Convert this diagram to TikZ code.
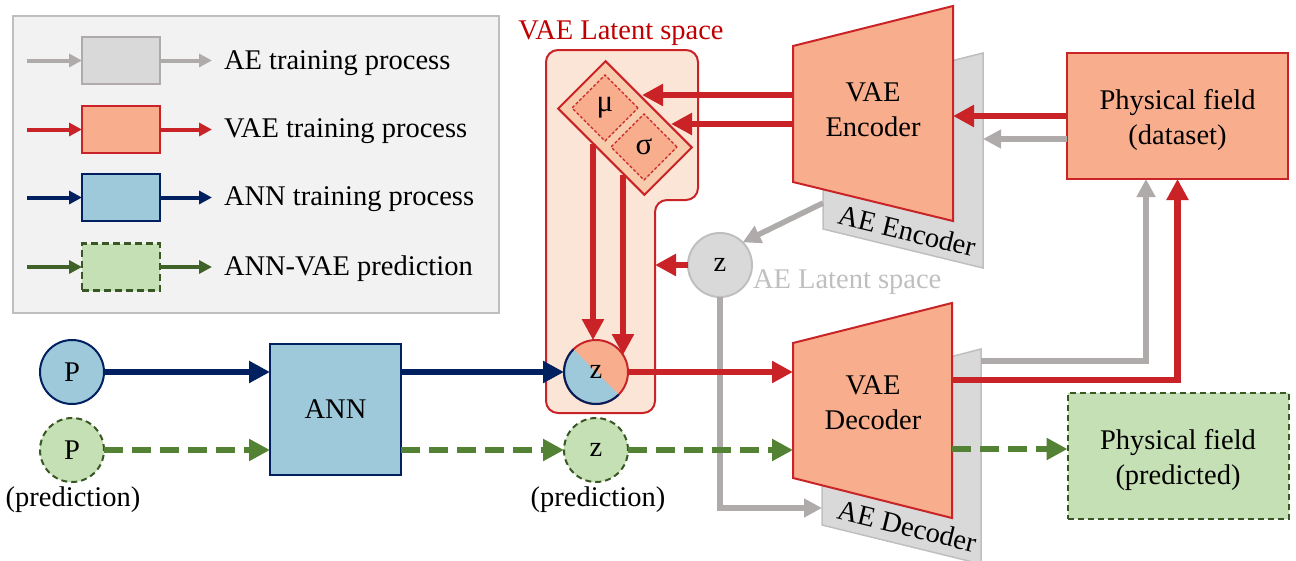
\documentclass[tikz,border=0pt]{standalone}
\usepackage{fontspec}
\setmainfont{Liberation Serif}
\usetikzlibrary{arrows.meta,shapes.geometric,calc}

\definecolor{vred}{RGB}{201,35,40}
\definecolor{titlered}{RGB}{192,0,0}
\definecolor{salmon}{RGB}{248,173,141}
\definecolor{latfill}{RGB}{251,229,214}
\definecolor{msfill}{RGB}{248,203,173}
\definecolor{navyc}{RGB}{0,32,96}
\definecolor{lblue}{RGB}{157,201,218}
\definecolor{gfill}{RGB}{217,217,217}
\definecolor{gline}{RGB}{175,171,171}
\definecolor{gborder}{RGB}{191,191,191}
\definecolor{agreen}{RGB}{84,130,53}
\definecolor{dgreen}{RGB}{56,87,35}
\definecolor{lgarrowgreen}{RGB}{62,98,40}
\definecolor{lgreen}{RGB}{197,224,180}
\definecolor{lgfill}{RGB}{242,242,242}

\begin{document}
\begin{tikzpicture}[x=1pt, y=-1pt, line join=miter,
  every node/.style={font=\fontsize{28.5}{35}\selectfont, inner sep=0pt, outer sep=0pt},
  lgframe/.style={draw=gborder, fill=lgfill, line width=2pt, minimum width=486pt, minimum height=297pt},
  lgbox/.style={minimum width=78pt, minimum height=47pt, line width=2.5pt},
  lgarrow/.style={line width=4pt, -{Triangle[length=13pt,width=13pt]}},
  redarrow/.style={draw=vred, line width=6.5pt, -{Triangle[length=21pt,width=21pt]}},
  grayarrow/.style={draw=gline, line width=5.5pt, -{Triangle[length=18pt,width=18pt]}},
  navyarrow/.style={draw=navyc, line width=6.5pt, -{Triangle[length=21pt,width=21pt]}},
  greenarrow/.style={draw=agreen, line width=6.5pt, dash pattern=on 19pt off 9pt, -{Triangle[length=21pt,width=21pt]}},
  vaeshape/.style={draw=vred, fill=salmon, line width=2pt},
  aeshape/.style={draw=gborder, fill=gfill, line width=1.5pt},
  pbox/.style={rectangle, minimum width=221pt, minimum height=126pt, line width=2pt},
  ball/.style={circle, minimum size=64pt, line width=2pt},
  gdash/.style={dash pattern=on 6pt off 4pt},
  latentpart/.style={diamond, aspect=1, minimum width=66pt, minimum height=66pt, draw=vred, fill=salmon, line width=1.2pt, dash pattern=on 3pt off 2pt, font=\fontsize{31}{34}\selectfont}
]
\useasboundingbox (0,0) rectangle (1296,560);

% ---------- legend ----------
\node[lgframe] (legend) at (256,164.5) {};
\node[lgbox, fill=gfill, draw=gline] (lg1) at (121,60.5) {};
\node[lgbox, fill=salmon, draw=vred] (lg2) at (121,129.5) {};
\node[lgbox, fill=lblue, draw=navyc] (lg3) at (121,197.5) {};
\node[lgbox, fill=lgreen, draw=dgreen, dash pattern=on 7pt off 4pt] (lg4) at (121,267) {};
\foreach \i/\c in {1/gline,2/vred,3/navyc,4/lgarrowgreen} {
  \coordinate (lgin\i) at ($(lg\i.west)+(-55,0)$);
  \coordinate (lgout\i) at ($(lg\i.east)+(52,0)$);
  \draw[lgarrow, \c] (lgin\i) -- (lg\i.west);
  \draw[lgarrow, \c] (lg\i.east) -- (lgout\i);
}
\node[anchor=base west] (lgt1) at (224,69) {AE training process};
\node[anchor=base west] (lgt2) at (224,137.5) {VAE training process};
\node[anchor=base west] (lgt3) at (224,205) {ANN training process};
\node[anchor=base west] (lgt4) at (224,275) {ANN-VAE prediction};

% ---------- VAE latent space ----------
\node[anchor=base, text=titlered] (lattitle) at (621,39) {VAE Latent space};
\coordinate (latstep) at (655,200);
\draw[draw=vred, fill=latfill, line width=2pt, rounded corners=12pt]
  (546,50) -- (698,50) -- (698,200) -- (latstep) -- (655,413) -- (546,413) -- cycle;

\node[rectangle, rotate=-45, minimum width=122pt, minimum height=67pt,
      draw=vred, fill=msfill, line width=2pt] (ms) at (625,128) {};
\node[latentpart] (mu) at (605,108) {μ};
\node[latentpart] (sigma) at (644,147) {σ};

% split latent variable z
\coordinate (vzc) at (596,372);
\begin{scope}
  \clip (vzc) circle[radius=32];
  \fill[salmon] (vzc) circle[radius=32];
  \fill[lblue] ($(vzc)+(-40,-40)$) -- ($(vzc)+(40,40)$) -- ($(vzc)+(-40,40)$) -- cycle;
\end{scope}
\draw[vred, line width=2pt] (vzc) circle[radius=32];
\begin{scope}
  \clip ($(vzc)+(-40,-40)$) -- ($(vzc)+(40,40)$) -- ($(vzc)+(-40,40)$) -- cycle;
  \draw[navyc, line width=2pt] (vzc) circle[radius=32];
\end{scope}
\node[ball] (vz) at (vzc) {z};

% ---------- AE latent variable ----------
\node[ball, draw=gborder, fill=gfill] (gz) at (720,265) {z};
\node[anchor=base west, text=gborder] (aelat) at (753,288) {AE Latent space};

% ---------- encoders / decoders ----------
\coordinate (ae1) at (823,93);  \coordinate (ae2) at (983,53);
\coordinate (ae3) at (983,268); \coordinate (ae4) at (823,229);
\draw[aeshape] (ae1) -- (ae2) -- (ae3) -- (ae4) -- cycle;
\node[rotate=-13.7] (aeenc) at (907,231) {AE Encoder};

\coordinate (ve1) at (793,46);  \coordinate (ve2) at (953,6);
\coordinate (ve3) at (953,221); \coordinate (ve4) at (793,182);
\draw[vaeshape] (ve1) -- (ve2) -- (ve3) -- (ve4) -- cycle;
\node[align=center] (vaeenc) at (873,110) {VAE\\Encoder};

\coordinate (ad1) at (822,390); \coordinate (ad2) at (981,349);
\coordinate (ad3) at (981,564); \coordinate (ad4) at (822,525);
\draw[aeshape] (ad1) -- (ad2) -- (ad3) -- (ad4) -- cycle;
\node[rotate=-13.7] (aedec) at (907,526) {AE Decoder};

\coordinate (vd1) at (793,343); \coordinate (vd2) at (952,303);
\coordinate (vd3) at (952,518); \coordinate (vd4) at (793,478);
\draw[vaeshape] (vd1) -- (vd2) -- (vd3) -- (vd4) -- cycle;
\node[align=center] (vaedec) at (873,403) {VAE\\Decoder};

% ---------- physical fields ----------
\node[pbox, draw=vred, fill=salmon] (data) at (1177.5,116) {};
\node[align=center] (datat) at (1177.5,120) {Physical field\\(dataset)};
\node[pbox, draw=dgreen, fill=lgreen, gdash] (pred) at (1178,456) {};
\node[align=center] (predt) at (1178,460) {Physical field\\(predicted)};

% ---------- inputs and ANN ----------
\node[ball, draw=navyc, fill=lblue] (p) at (72,372) {P};
\node[ball, draw=dgreen, fill=lgreen, gdash] (pp) at (72,450) {P};
\node[anchor=base] (predl) at (73,506) {(prediction)};
\node[rectangle, minimum width=131pt, minimum height=131pt, draw=navyc, fill=lblue, line width=2.5pt] (ann) at (335.5,409.5) {ANN};
\node[ball, draw=dgreen, fill=lgreen, gdash] (zp) at (596,450) {z};
\node[anchor=base] (predr) at (598,506) {(prediction)};

% ---------- connection points on the coders ----------
\coordinate (encin) at (953,116);
\coordinate (aeencin) at (983,139);
\coordinate (encmu) at (793,95);
\coordinate (encsig) at (793,124);
\coordinate (muin) at (642,95);
\coordinate (sigin) at (671,124);
\coordinate (muout) at (593,144);
\coordinate (sigout) at (623,175);
\coordinate (aeencout) at (823,203);
\coordinate (aedecin) at (822,508);
\coordinate (aedecout) at (981,361);
\coordinate (decinr) at (793,372);
\coordinate (decing) at (793,448);
\coordinate (decoutr) at (952,380);
\coordinate (decoutg) at (952,449);

% ---------- AE connectors ----------
\draw[grayarrow] (data.west |- aeencin) -- (aeencin);
\draw[grayarrow] (aeencout) -- (gz.45);
\draw[grayarrow] (gz.south) |- (aedecin);
\draw[grayarrow] (aedecout) -| ([xshift=-31.5pt]data.south);

% ---------- VAE connectors ----------
\draw[redarrow] (data.west |- encin) -- (encin);
\draw[redarrow] (encmu) -- (muin);
\draw[redarrow] (encsig) -- (sigin);
\draw[redarrow] (muout) -- (muout |- vz.95);
\draw[redarrow] (sigout) -- (sigout |- vz.32.5);
\draw[redarrow] (gz.west) -- (gz.west -| latstep);
\draw[redarrow] (vz.east) -- (decinr);
\draw[redarrow] (decoutr) -| (data.south);

% ---------- ANN connectors ----------
\draw[navyarrow] (p.east) -- (p.east -| ann.west);
\draw[navyarrow] (ann.east |- vz.west) -- (vz.west);

% ---------- prediction connectors ----------
\draw[greenarrow] (pp.east) -- (pp.east -| ann.west);
\draw[greenarrow] (ann.east |- zp.west) -- (zp.west);
\draw[greenarrow] (zp.east) -- (zp.east -| decing);
\draw[greenarrow] (decoutg) -- (decoutg -| pred.west);
\end{tikzpicture}
\end{document}
